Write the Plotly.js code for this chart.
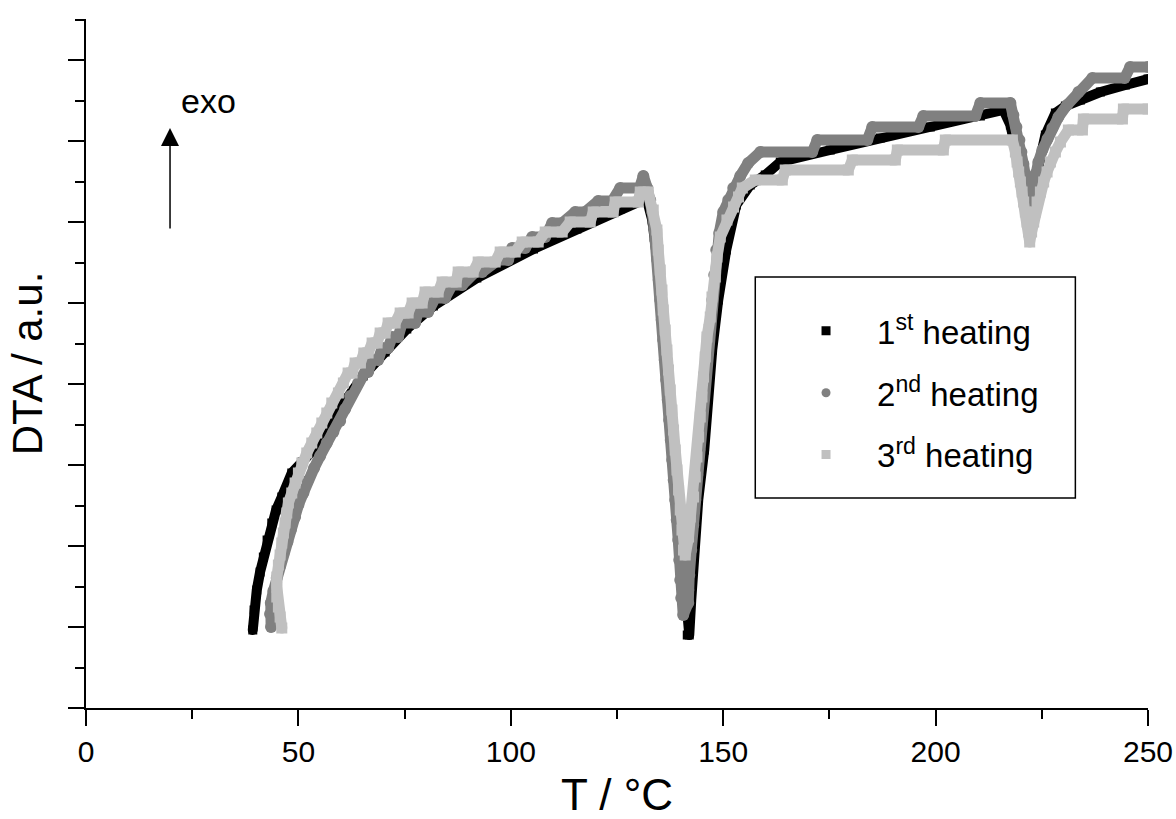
<!DOCTYPE html>
<html>
<head>
<meta charset="utf-8">
<script src="https://cdn.plot.ly/plotly-3.0.1.min.js"></script>
<style>
html, body { margin: 0; padding: 0; background: #ffffff; }
#chart { width: 1176px; height: 819px; }
.scatterlayer .js-line { stroke-linejoin: round; stroke-linecap: round; }
</style>
</head>
<body>
<div id="chart"></div>
<script>
// ---- data: temperature (°C) and DTA signal (a.u.) ----
const T1 = [39.26, 39.56, 40.20, 40.98, 41.75, 42.63, 43.73, 44.75, 46.09, 48.44, 50.87, 53.46, 56.05, 59.82, 65.23, 70.41, 75.52, 81.79, 92.01, 105.34, 115.56, 125.76, 131.17, 131.64, 133.29, 134.47, 135.65, 136.59, 137.53, 138.47, 139.42, 140.36, 141.06, 141.54, 142.01, 142.48, 143.18, 144.13, 145.54, 146.25, 147.42, 148.84, 150.72, 153.08, 156.37, 159.90, 163.44, 175.21, 186.99, 198.76, 210.54, 215.95, 217.60, 219.02, 220.43, 221.84, 223.02, 224.20, 225.84, 228.20, 230.55, 234.09, 238.80, 244.68, 250.00];
const DTA1 = [78, 98, 118, 136, 151, 168, 185, 198, 211, 235, 246, 258, 270, 300, 332, 356, 379, 402, 430, 459, 479, 499, 508, 515, 488, 448, 398, 348, 298, 248, 198, 148, 108, 73, 73, 108, 158, 208, 258, 308, 358, 408, 458, 503, 523, 533, 546, 558, 570, 581, 592, 598, 583, 558, 528, 496, 518, 543, 573, 595, 602, 608, 616, 623, 629];

const T2 = [43.57, 43.33, 43.50, 44.11, 44.91, 45.69, 46.46, 47.41, 48.21, 49.22, 50.00, 51.17, 52.12, 53.69, 55.11, 56.68, 58.24, 59.82, 61.00, 62.17, 64.06,
  65.70, 66.40, 67.35, 68.77, 69.71, 71.12, 72.06, 73.48, 74.42, 77.48, 78.19, 80.54, 82.19, 84.54, 86.19, 88.55, 91.61, 93.26, 97.03, 99.38, 100.32, 103.38, 105.03, 108.10, 109.74, 112.10, 115.16, 117.50, 120.58, 123.87, 125.76, 130.30,
  131.20,
  132.12, 132.82, 133.29, 133.76, 134.00, 134.47, 134.82, 135.18, 135.53, 135.88, 136.24, 136.59, 136.94, 137.29, 137.65, 138.00, 138.35, 138.71, 139.06, 139.42, 139.65, 139.89, 140.12, 140.59,
  141.77, 141.77,
  142.01, 142.48, 142.95, 143.42, 143.89, 144.36, 144.83, 145.30, 145.77, 146.25, 146.83, 147.42, 147.89, 148.37, 149.07, 150.01, 151.19, 152.37, 154.02, 155.90,
  158.73, 170.97, 172.15, 183.93, 185.10, 195.94, 197.11, 209.36, 210.54, 217.60,
  218.31, 219.02, 219.72, 220.19, 220.66, 221.13, 221.37, 221.61, 221.84, 222.55, 223.02, 223.49, 224.20, 225.14, 226.32, 227.49, 228.91, 230.95, 233.62,
  236.90, 244.50, 245.80, 250.00];
const DTA2 = [81, 94, 105, 117, 130, 142, 154, 166, 178, 191, 203, 215, 227, 240, 252, 265, 276, 287, 299, 312, 325,
  336, 336, 348, 348, 360, 360, 371, 371, 385, 385, 396, 396, 410, 410, 423, 423, 436, 436, 448, 448, 460, 460, 471, 471, 485, 485, 496, 496, 507, 507, 520, 520,
  532,
  520, 508, 496, 480, 468, 448, 428, 408, 388, 368, 348, 328, 308, 288, 268, 248, 228, 208, 188, 168, 148, 128, 110, 93,
  105, 118,
  133, 158, 183, 208, 233, 258, 283, 308, 333, 358, 383, 408, 433, 458, 475, 496, 508, 520, 532, 545,
  556, 556, 568, 568, 581, 581, 592, 592, 605, 605,
  593, 581, 568, 556, 544, 532, 520, 508, 498, 510, 522, 534, 546, 558, 569, 580, 591, 603, 616,
  630, 630, 641, 641];

const T3 = [46.09, 45.69, 45.29, 44.91, 44.91, 44.91, 45.29, 45.69, 46.09, 46.46, 46.86, 47.26, 47.64, 48.44, 49.22, 50.00, 50.80, 51.97, 53.15, 54.33, 55.51, 56.68, 57.86, 59.42, 60.59,
  61.70, 62.64, 63.35, 64.60, 65.40, 66.41, 67.35, 68.53, 69.24, 70.41, 71.12, 72.77, 73.95, 75.83, 76.77, 79.13, 79.83, 82.90, 83.84, 87.14, 87.61, 91.14, 92.32, 96.32, 97.50, 101.03, 102.68, 106.45, 108.10, 112.10, 113.98, 118.70, 119.40, 124.10, 124.58, 130.00, 130.47, 132.35,
  133.53, 134.40, 134.71, 135.18, 135.58, 135.88, 136.35, 136.75, 137.13, 137.53, 137.93, 138.31, 138.71, 139.11, 139.49, 139.89, 140.29, 140.66, 141.06,
  141.84, 142.24, 143.02, 143.42, 143.82, 144.20, 144.60, 145.00, 145.37, 145.77, 146.17, 146.95, 147.35, 148.13, 148.53, 149.31, 150.88, 152.44, 153.60, 154.50,
  157.55, 163.91, 164.60, 179.45, 180.39, 190.52, 190.99, 201.82, 202.29, 218.07,
  218.78, 219.18, 219.56, 219.96, 220.36, 220.73, 221.13, 221.53, 221.91, 222.15,
  222.60, 223.09, 223.49, 223.89, 224.67, 225.44, 226.24, 227.02, 228.20, 229.38,
  231.26, 234.56, 234.79, 243.98, 244.21, 250.00];
const DTA3 = [80, 91, 101, 111, 121, 131, 143, 153, 165, 175, 185, 195, 205, 215, 225, 235, 245, 255, 265, 275, 285, 295, 305, 315, 325,
  335, 335, 345, 345, 355, 355, 365, 365, 375, 375, 385, 385, 395, 395, 405, 405, 416, 416, 426, 426, 436, 436, 446, 446, 456, 456, 466, 466, 476, 476, 486, 486, 496, 496, 506, 506, 516, 516,
  498, 478, 458, 438, 418, 398, 378, 358, 338, 318, 298, 278, 258, 238, 218, 198, 178, 158, 153,
  171, 191, 211, 231, 251, 271, 291, 311, 331, 351, 371, 391, 411, 431, 451, 471, 488, 501, 511, 520,
  528, 528, 538, 538, 548, 548, 558, 558, 568, 568,
  556, 546, 536, 526, 516, 506, 496, 486, 476, 466,
  476, 486, 496, 506, 516, 526, 536, 546, 556, 566,
  578, 578, 589, 589, 599, 599];

const seriesNames = ['1<sup>st</sup> heating', '2<sup>nd</sup> heating', '3<sup>rd</sup> heating'];
const xTickVals = [0, 50, 100, 150, 200, 250];
const xTitle = 'T / °C';
const yTitle = 'DTA / a.u.';
const noteText = 'exo';

// ---- styling ----
const FONT = 'Liberation Sans, Arial, Helvetica, sans-serif';
const styles = [
  { color: '#000000', symbol: 'square', size: 9, lw: 10 },
  { color: '#808080', symbol: 'circle', size: 12, lw: 11 },
  { color: '#c0c0c0', symbol: 'square', size: 11, lw: 11 }
];
const xs = [T1, T2, T3];
const ys = [DTA1, DTA2, DTA3];

const traces = [];
for (let i = 0; i < 3; i++) {
  traces.push({
    x: xs[i], y: ys[i], type: 'scatter', mode: 'lines+markers',
    line: { color: styles[i].color, width: styles[i].lw },
    marker: { symbol: styles[i].symbol, size: styles[i].size, color: styles[i].color },
    showlegend: false, hoverinfo: 'skip'
  });
}
for (let i = 0; i < 3; i++) {
  traces.push({
    x: [null], y: [null], type: 'scatter', mode: 'markers', name: seriesNames[i],
    legendgroup: 'g' + i,
    marker: { symbol: styles[i].symbol, size: 9, color: styles[i].color },
    showlegend: true, hoverinfo: 'skip'
  });
}

const layout = {
  width: 1176, height: 819,
  margin: { l: 86, r: 28, t: 19, b: 111, pad: 0 },
  paper_bgcolor: '#ffffff', plot_bgcolor: '#ffffff',
  font: { family: FONT, color: '#000000' },
  showlegend: true,
  xaxis: {
    range: [0, 250], tickmode: 'array', tickvals: xTickVals,
    ticks: 'outside', ticklen: 16, tickwidth: 2, tickcolor: '#000',
    minor: { dtick: 25, tick0: 0, ticks: 'outside', ticklen: 9, tickwidth: 2, tickcolor: '#000', showgrid: false },
    showline: true, linewidth: 2, linecolor: '#000', mirror: false,
    showgrid: false, zeroline: false,
    tickfont: { family: FONT, size: 30, color: '#000' },
    title: { text: xTitle, font: { family: FONT, size: 44, color: '#000' }, standoff: 16 }
  },
  yaxis: {
    range: [0, 689], tickmode: 'linear', tick0: 0, dtick: 81,
    ticks: 'outside', ticklen: 16, tickwidth: 2, tickcolor: '#000',
    minor: { dtick: 40.5, tick0: 0, ticks: 'outside', ticklen: 9, tickwidth: 2, tickcolor: '#000', showgrid: false },
    showticklabels: false,
    showline: true, linewidth: 2, linecolor: '#000',
    showgrid: false, zeroline: false,
    title: { text: yTitle, font: { family: FONT, size: 42, color: '#000' }, standoff: 12 }
  },
  legend: {
    x: 0.6488, xanchor: 'left', y: 0.588, yanchor: 'top',
    bgcolor: 'rgba(0,0,0,0)', borderwidth: 0,
    font: { family: FONT, size: 33, color: '#000' },
    itemwidth: 92, tracegroupgap: 16, traceorder: 'grouped'
  },
  shapes: [
    { type: 'rect', xref: 'x', yref: 'y', x0: 157.55, x1: 232.9, y0: 210, y1: 431,
      line: { color: '#000', width: 1.5 }, fillcolor: 'rgba(0,0,0,0)', layer: 'above' }
  ],
  annotations: [
    { x: 19.78, y: 580, xref: 'x', yref: 'y', ax: 0, ay: 102, axref: 'pixel', ayref: 'pixel',
      text: '', showarrow: true, arrowhead: 2, arrowsize: 2.4, arrowwidth: 1.5, arrowcolor: '#000', standoff: 0 },
    { x: 28.73, y: 607, xref: 'x', yref: 'y', text: noteText, showarrow: false,
      xanchor: 'center', yanchor: 'middle', font: { family: FONT, size: 34, color: '#000' } }
  ]
};

Plotly.newPlot('chart', traces, layout, { displayModeBar: false, staticPlot: true });
</script>
</body>
</html>
